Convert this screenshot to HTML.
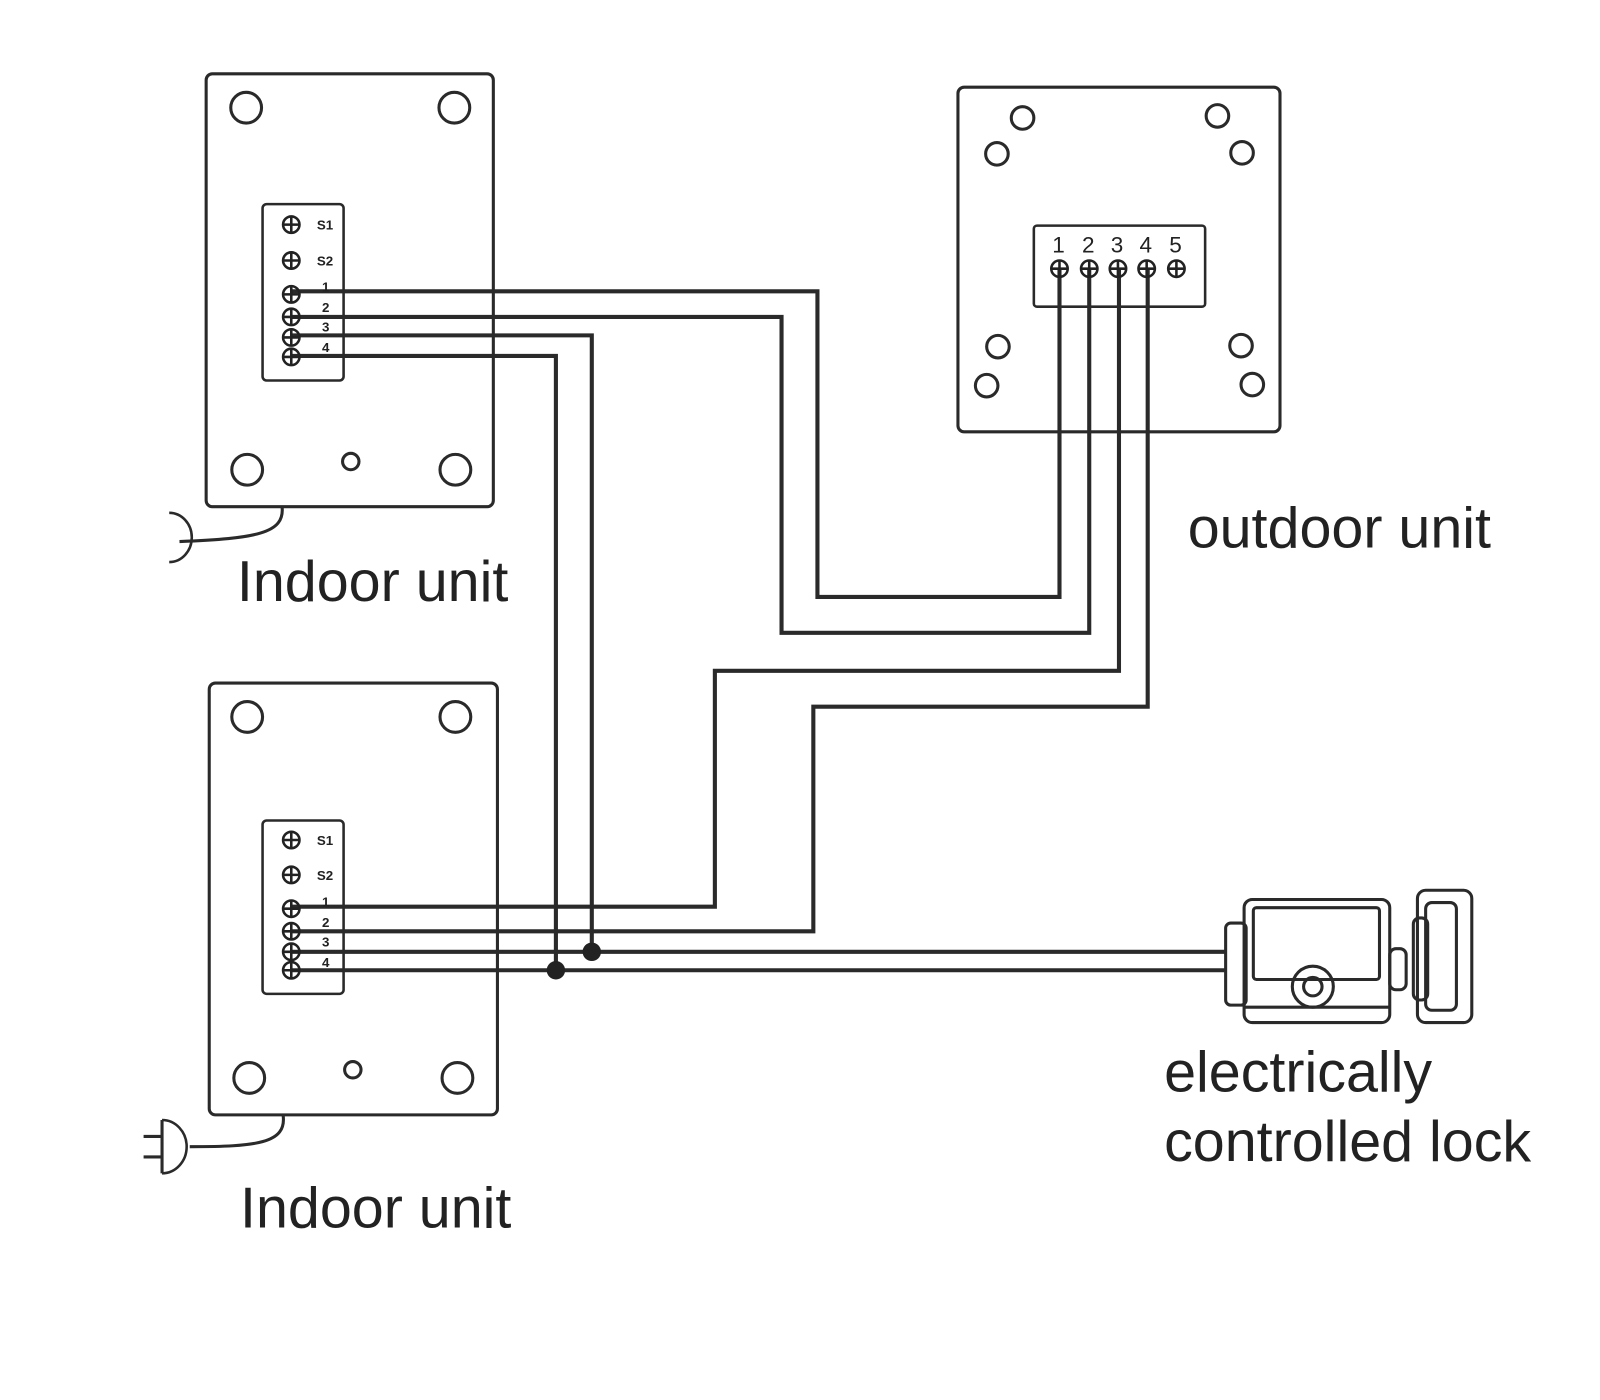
<!DOCTYPE html>
<html><head><meta charset="utf-8"><style>
html,body{margin:0;padding:0;background:#fff;width:1600px;height:1400px;overflow:hidden}
svg{display:block}
text{font-family:"Liberation Sans",sans-serif;fill:#222}
</style></head><body>
<svg width="1600" height="1400" viewBox="0 0 1560 1365" preserveAspectRatio="none">
<defs><g id="s"><circle r="8"/><path d="M-8 0H8M0-8V8"/></g></defs>
<g fill="none" stroke="#2a2a2a" stroke-width="3">
<!-- Indoor unit 1 -->
<rect x="201" y="72" width="280" height="422" rx="6"/>
<circle cx="240" cy="105" r="15"/><circle cx="443" cy="105" r="15"/>
<circle cx="241" cy="458" r="15"/><circle cx="444" cy="458" r="15"/>
<circle cx="342" cy="450" r="8"/>
<rect x="256" y="199" width="79" height="172" rx="4" stroke-width="2.5"/>
<path d="M275 494 C278 520 250 525 175 528"/>
<path d="M165 500 A22 24 0 0 1 165 548" stroke-width="2.5"/>
<!-- Indoor unit 2 -->
<rect x="204" y="666" width="281" height="421" rx="6"/>
<circle cx="241" cy="699" r="15"/><circle cx="444" cy="699" r="15"/>
<circle cx="243" cy="1051" r="15"/><circle cx="446" cy="1051" r="15"/>
<circle cx="344" cy="1043" r="8"/>
<rect x="256" y="800" width="79" height="169" rx="4" stroke-width="2.5"/>
<path d="M276 1087 C280 1115 250 1118 185 1118"/>
<path d="M158 1092 A24 26 0 0 1 158 1144" stroke-width="2.5"/>
<path d="M158 1092 V1144"/><path d="M140 1108 H158 M140 1128 H158"/>
<!-- Outdoor unit -->
<rect x="934" y="85" width="314" height="336" rx="6"/>
<circle cx="997" cy="115" r="11"/><circle cx="972" cy="150" r="11"/>
<circle cx="1187" cy="113" r="11"/><circle cx="1211" cy="149" r="11"/>
<circle cx="973" cy="338" r="11"/><circle cx="962" cy="376" r="11"/>
<circle cx="1210" cy="337" r="11"/><circle cx="1221" cy="375" r="11"/>
<rect x="1008" y="220" width="167" height="79" rx="3" stroke-width="2.5"/>
<!-- Wires -->
<g stroke-width="4">
<path d="M284 284 H797 V582 H1033 V262"/>
<path d="M284 309 H762 V617 H1062 V262"/>
<path d="M284 327 H577 V928"/>
<path d="M284 347 H542 V946"/>
<path d="M284 884 H697 V654 H1091 V262"/>
<path d="M284 908 H793 V689 H1119 V262"/>
<path d="M284 928 H1195"/>
<path d="M284 946 H1195"/>
</g>
<!-- Lock -->
<rect x="1195" y="900" width="20" height="80" rx="5"/>
<rect x="1213" y="877" width="142" height="120" rx="8"/>
<rect x="1222" y="885" width="123" height="70" rx="3"/>
<path d="M1213 982 H1355"/>
<circle cx="1280" cy="962" r="20"/><circle cx="1280" cy="962" r="9"/>
<rect x="1355" y="925" width="16" height="40" rx="6"/>
<rect x="1382" y="868" width="53" height="129" rx="8"/>
<rect x="1390" y="880" width="30" height="105" rx="6"/>
<rect x="1378" y="895" width="14" height="80" rx="6"/>
</g>
<g fill="#222"><circle cx="577" cy="928" r="9"/><circle cx="542" cy="946" r="9"/></g>
<g stroke="#222" stroke-width="2.5" fill="none">
<use href="#s" x="284" y="219"/><use href="#s" x="284" y="254"/><use href="#s" x="284" y="287"/><use href="#s" x="284" y="309"/><use href="#s" x="284" y="329"/><use href="#s" x="284" y="348"/>
<use href="#s" x="284" y="819"/><use href="#s" x="284" y="853"/><use href="#s" x="284" y="886"/><use href="#s" x="284" y="908"/><use href="#s" x="284" y="928"/><use href="#s" x="284" y="946"/>
<use href="#s" x="1033" y="262"/><use href="#s" x="1062" y="262"/><use href="#s" x="1090" y="262"/><use href="#s" x="1118" y="262"/><use href="#s" x="1147" y="262"/>
</g>
<g font-size="13" font-weight="bold">
<text x="309" y="224">S1</text><text x="309" y="259">S2</text>
<text x="314" y="284">1</text><text x="314" y="304">2</text><text x="314" y="323">3</text><text x="314" y="343">4</text>
<text x="309" y="824">S1</text><text x="309" y="858">S2</text>
<text x="314" y="884">1</text><text x="314" y="904">2</text><text x="314" y="923">3</text><text x="314" y="943">4</text>
</g>
<g font-size="22"><text x="1026" y="246">1</text><text x="1055" y="246">2</text><text x="1083" y="246">3</text><text x="1111" y="246">4</text><text x="1140" y="246">5</text></g>
<g font-size="56">
<text x="231" y="586">Indoor unit</text>
<text x="1158" y="534">outdoor unit</text>
<text x="1135" y="1064">electrically</text>
<text x="1135" y="1132">controlled lock</text>
<text x="234" y="1197">Indoor unit</text>
</g>
</svg>
</body></html>
